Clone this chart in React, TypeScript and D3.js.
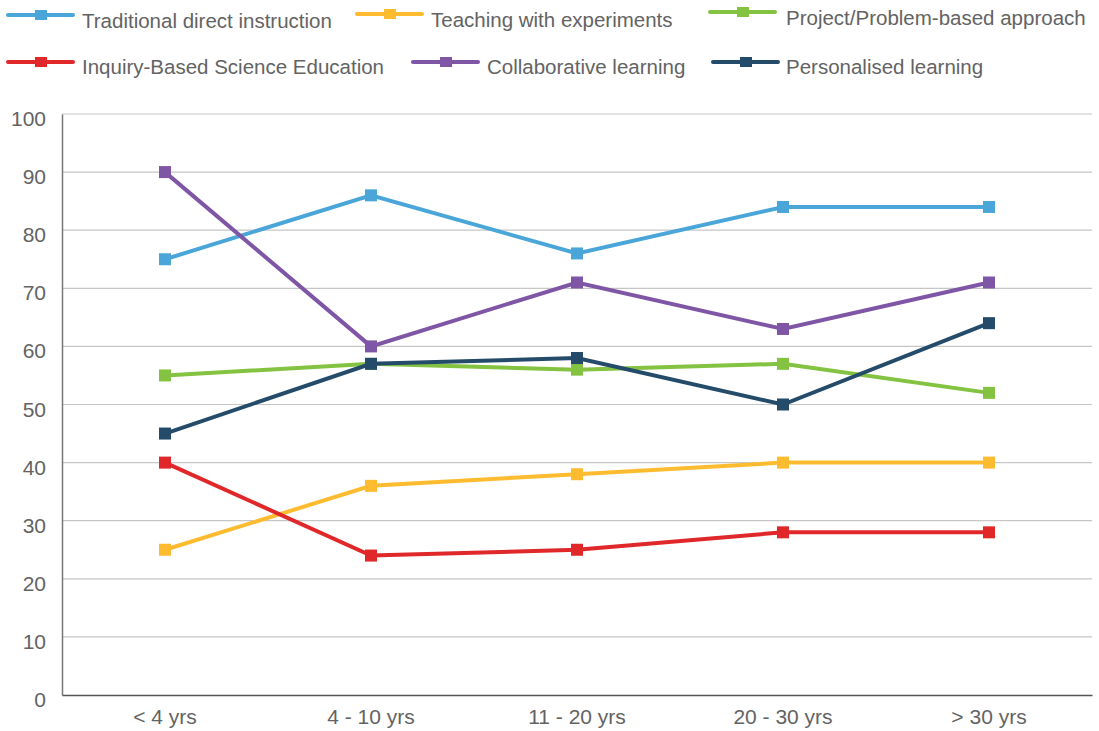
import React, {useEffect, useRef} from "react";
import * as d3 from "d3";

const categories = ["< 4 yrs", "4 - 10 yrs", "11 - 20 yrs", "20 - 30 yrs", "> 30 yrs"];
const seriesNames = [
    "Traditional direct instruction",
    "Teaching with experiments",
    "Project/Problem-based approach",
    "Inquiry-Based Science Education",
    "Collaborative learning",
    "Personalised learning",
];
const traditional = [75, 86, 76, 84, 84];
const experiments = [25, 36, 38, 40, 40];
const project = [55, 57, 56, 57, 52];
const inquiry = [40, 24, 25, 28, 28];
const collaborative = [90, 60, 71, 63, 71];
const personalised = [45, 57, 58, 50, 64];
const yTicks = [0, 10, 20, 30, 40, 50, 60, 70, 80, 90, 100];

const colors = ["#4aa6d9", "#fdbb30", "#84c241", "#e0282a", "#7f56a5", "#244b69"];
// legend placement: [lineStartX, lineY, textX, textY]
const legendPos = [
    [8, 15, 82, 21], [357, 14, 431, 20], [710, 12, 786, 18],
    [8, 62, 82, 67], [413, 62, 487, 67], [713, 62, 786, 67],
];

const App: React.FC = () => {
    const ref = useRef<SVGSVGElement | null>(null);

    useEffect(() => {
        if (!ref.current) return;
        const svg = d3.select(ref.current);
        svg.selectAll("*").remove();

        const width = 1099;
        const height = 731;
        const margin = {top: 114, right: 7, bottom: 36, left: 62};
        const font = "'Liberation Sans', Arial, sans-serif";
        const textColor = "#636363";

        const x = d3.scaleBand().domain(categories).range([margin.left, width - margin.right]);
        const y = d3.scaleLinear().domain([0, 100]).range([height - margin.bottom, margin.top]);

        const series = [traditional, experiments, project, inquiry, collaborative, personalised];

        // gridlines
        svg.append("g")
            .selectAll("line")
            .data(yTicks.filter(d => d > 0))
            .join("line")
            .attr("x1", margin.left)
            .attr("x2", width - margin.right)
            .attr("y1", d => y(d))
            .attr("y2", d => y(d))
            .attr("stroke", "#c6c6c6")
            .attr("stroke-width", 1.2);

        // y axis
        const yAxis = svg.append("g")
            .attr("transform", `translate(${margin.left},0)`)
            .call(d3.axisLeft(y).tickValues(yTicks).tickSize(0).tickPadding(16));
        yAxis.select(".domain").attr("stroke", "#777").attr("stroke-width", 1.5);
        yAxis.selectAll("text")
            .attr("font-family", font)
            .attr("font-size", "21px")
            .attr("dy", "0.55em")
            .attr("fill", textColor);

        // x axis
        const xAxis = svg.append("g")
            .attr("transform", `translate(0,${y(0)})`)
            .call(d3.axisBottom(x).tickSize(0).tickPadding(14));
        xAxis.select(".domain").attr("stroke", "#555").attr("stroke-width", 1.5);
        xAxis.selectAll("text")
            .attr("font-family", font)
            .attr("font-size", "21px")
            .attr("fill", textColor);

        const cx = (c: string) => (x(c) || 0) + x.bandwidth() / 2;
        const line = d3.line<number>()
            .x((_, i) => cx(categories[i]))
            .y(d => y(d));

        series.forEach((vals, si) => {
            const g = svg.append("g");
            g.append("path")
                .datum(vals)
                .attr("d", line)
                .attr("fill", "none")
                .attr("stroke", colors[si])
                .attr("stroke-width", 4);
            g.selectAll("rect")
                .data(vals)
                .join("rect")
                .attr("x", (_, i) => cx(categories[i]) - 6)
                .attr("y", d => y(d) - 6)
                .attr("width", 12)
                .attr("height", 12)
                .attr("fill", colors[si]);
        });

        // legend
        const legend = svg.append("g");
        seriesNames.forEach((name, i) => {
            const [lx, ly, tx, ty] = legendPos[i];
            legend.append("line")
                .attr("x1", lx)
                .attr("x2", lx + 65)
                .attr("y1", ly)
                .attr("y2", ly)
                .attr("stroke", colors[i])
                .attr("stroke-width", 4)
                .attr("stroke-linecap", "round");
            legend.append("rect")
                .attr("x", lx + 27)
                .attr("y", ly - 5)
                .attr("width", 12)
                .attr("height", 10)
                .attr("fill", colors[i]);
            legend.append("text")
                .attr("x", tx)
                .attr("y", ty)
                .attr("dy", "0.35em")
                .attr("font-family", font)
                .attr("font-size", "20.5px")
                .attr("fill", textColor)
                .text(name);
        });
    }, []);

    return (
        <svg
            ref={ref}
            width={1099}
            height={731}
            style={{position: "absolute", left: 0, top: 0, background: "#fff"}}
        ></svg>
    );
};

export default App;
